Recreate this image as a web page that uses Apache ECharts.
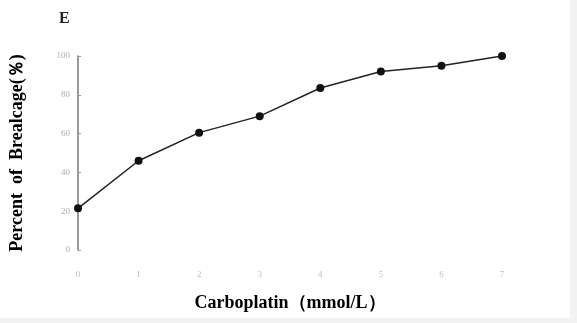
<!DOCTYPE html>
<html>
<head>
<meta charset="utf-8">
<script src="https://cdn.jsdelivr.net/npm/echarts@6/dist/echarts.min.js"></script>
<style>
  html, body { margin: 0; padding: 0; background: #f2f2f2; }
  #main { width: 570px; height: 318px; background: #fff; }
</style>
</head>
<body>
<div id="main"></div>
<script>
// 卡铂浓度 (x 轴刻度, 原图几乎看不清)
const doses = ['0', '1', '2', '3', '4', '5', '6', '7']
// 断裂百分比
const breakage = [21.5, 46, 60.5, 69, 83.5, 92, 95, 100]
const yTicks = { min: 0, max: 100, interval: 20 }

const myChart = echarts.init(document.getElementById('main'))
myChart.setOption({
  animation: false,
  backgroundColor: '#fff',
  title: {
    text: 'E',
    left: 54,
    top: 6,
    textStyle: { fontFamily: 'Liberation Serif', fontSize: 16, fontWeight: 'bold', color: '#222' }
  },
  grid: { left: 72, right: 68, top: 56, bottom: 68 },
  xAxis: {
    type: 'category',
    data: doses,
    boundaryGap: false,
    name: 'Carboplatin（mmol/L）',
    nameLocation: 'middle',
    nameGap: 44,
    nameTextStyle: {
      fontFamily: 'Liberation Serif', fontSize: 18, fontWeight: 'bold', color: '#000'
    },
    axisLine: { show: false },
    axisTick: { show: false },
    axisLabel: { margin: 20, fontSize: 9, color: '#bdbdbd', fontFamily: 'Liberation Serif' }
  },
  yAxis: {
    type: 'value',
    min: yTicks.min,
    max: yTicks.max,
    interval: yTicks.interval,
    name: 'Percent  of  Brealcage(％)',
    nameLocation: 'middle',
    nameGap: 52,
    nameTextStyle: {
      fontFamily: 'Liberation Serif', fontSize: 18, fontWeight: 'bold', color: '#000'
    },
    splitLine: { show: false },
    axisLine: { show: true, lineStyle: { color: '#777', width: 1.5 } },
    axisTick: { show: true, inside: true, length: 3, lineStyle: { color: '#999' } },
    axisLabel: { margin: 8, fontSize: 9, color: '#adadad', fontFamily: 'Liberation Serif' }
  },
  series: [{
    type: 'line',
    data: breakage,
    symbol: 'circle',
    symbolSize: 8,
    itemStyle: { color: '#111' },
    lineStyle: { color: '#222', width: 1.5 }
  }]
})
</script>
</body>
</html>
